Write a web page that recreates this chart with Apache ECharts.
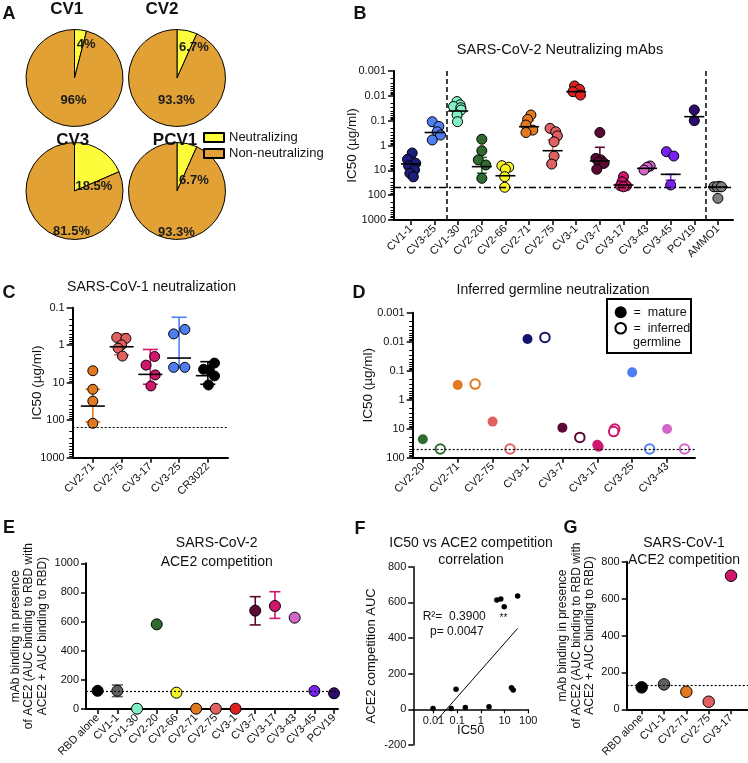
<!DOCTYPE html>
<html><head><meta charset="utf-8">
<script src="https://cdn.jsdelivr.net/npm/echarts@6/dist/echarts.min.js"></script>
<style>html,body{margin:0;padding:0;background:#fff}#c{width:748px;height:763px}</style>
</head><body><div id="c"></div>
<script>
// ---------------- DATA ----------------
// Panel A
const pieDonors = ['CV1', 'CV2', 'CV3', 'PCV1'];
const pieNeutralizing = [4, 6.7, 18.5, 6.7];
const pieNonNeutralizing = [96, 93.3, 81.5, 93.3];

// Panel B: SARS-CoV-2 neutralizing mAbs (IC50, ug/ml)
const bCategories = ['CV1-1','CV3-25','CV1-30','CV2-20','CV2-66','CV2-71','CV2-75','CV3-1','CV3-7','CV3-17','CV3-43','CV3-45','PCV19','AMMO1'];
const bColors = ['#1c1c7a','#4f7ef2','#82f0c4','#2f6b2f','#f7f425','#e2791f','#df6161','#e01f1f','#5c0a35','#d1166d','#d466c8','#7a22f2','#2e0b70','#7f7f7f'];
const bIC50 = [
  [2.0, 3.6, 5.2, 6.7, 9.7, 13.2, 18.3],
  [0.11, 0.17, 0.28, 0.38, 0.6],
  [0.017, 0.023, 0.027, 0.03, 0.037, 0.059, 0.11],
  [0.56, 1.62, 3.8, 6.1, 21],
  [6.5, 7.5, 9, 18, 48],
  [0.059, 0.089, 0.15, 0.24, 0.30],
  [0.204, 0.28, 0.41, 0.71, 2.66, 5.6],
  [0.004, 0.0055, 0.0068, 0.0093],
  [0.30, 3.3, 3.8, 4.6, 5.2, 9.1],
  [18, 29, 42, 42, 46],
  [6.7, 7.5, 9.7],
  [1.78, 2.66, 39],
  [0.037, 0.1],
  [44, 46, 46, 46, 134]
];
const bJitter = [
  [0.05, -0.15, 0.2, -0.1, 0.15, -0.05, 0.1],
  [-0.1, 0.18, 0.11, 0.25, -0.1],
  [-0.05, 0.08, -0.2, 0.11, 0.12, -0.05, -0.03],
  [0, 0, -0.15, 0.17, 0],
  [-0.15, 0.14, 0, -0.03, -0.03],
  [0.08, -0.06, -0.13, 0.16, -0.13],
  [-0.11, 0.13, 0.2, 0.06, 0.06, -0.04],
  [-0.07, 0.14, -0.14, 0.18],
  [0, -0.17, 0.04, -0.05, 0.18, -0.13],
  [0, -0.06, -0.13, 0.13, 0],
  [0.13, 0, -0.13],
  [-0.18, 0.13, 0],
  [0, 0],
  [0.05, -0.17, -0.03, 0.15, 0]
];
const bMedian = [5.5, 0.30, 0.041, 7.1, 16.5, 0.175, 1.62, 0.0068, 4.2, 39, 8.3, 14.5, 0.069, 47];
const bErrTop = [3, 0.17, 0.025, 3, 8, 0.1, 0.6, 0.005, 1.18, 25, 6.7, 14.5, 0.04, 44];
const bErrBottom = [12, 0.5, 0.07, 13, 25, 0.28, 4, 0.009, 8, 47, 9.7, 25, 0.1, 70];
const bThreshold = 50;
const bGroupDividers = [1.5, 12.5];

// Panel C: SARS-CoV-1 neutralization
const cCategories = ['CV2-71','CV2-75','CV3-17','CV3-25','CR3022'];
const cColors = ['#e2791f','#df6161','#d1166d','#4f7ef2','#000000'];
const cIC50 = [
  [4.8, 15, 31, 121],
  [0.62, 0.66, 0.98, 1.2, 1.95],
  [2.0, 3.4, 6.2, 12.2],
  [0.38, 0.5, 3.9, 3.9],
  [3.0, 4.4, 4.6, 6.6, 11.5]
];
const cJitter = [
  [0, 0, 0, 0],
  [-0.17, 0.15, 0, -0.12, 0.03],
  [0.15, -0.15, 0.17, 0.02],
  [0.2, -0.19, -0.19, 0.2],
  [0.23, -0.15, 0.05, 0.23, 0.02]
];
const cMedian = [42, 1.1, 6, 2.2, 6.5];
const cErrTop = [15, 0.5, 1.3, 0.18, 2.75];
const cErrBottom = [110, 1.8, 11, 3.9, 11];
const cThreshold = 155;

// Panel D: inferred germline neutralization
const dCategories = ['CV2-20','CV2-71','CV2-75','CV3-1','CV3-7','CV3-17','CV3-25','CV3-43'];
const dColors = ['#2f6b2f','#e2791f','#df6161','#14146e','#5c0a35','#d1166d','#4f7ef2','#d466c8'];
const dMature = [[23], [0.31], [5.7], [0.0081], [9.2], [36, 42], [0.114], [10.2]];
const dGermline = [[50], [0.29], [50], [0.0071], [20], [10.2, 12.6], [50], [50]];
const dThreshold = 50;

// Panel E: SARS-CoV-2 ACE2 competition
const eCategories = ['RBD alone','CV1-1','CV1-30','CV2-20','CV2-66','CV2-71','CV2-75','CV3-1','CV3-7','CV3-17','CV3-43','CV3-45','PCV19'];
const eColors = ['#000000','#606060','#82f0c4','#2f6b2f','#f7f425','#e2791f','#df6161','#e01f1f','#5c0a35','#d1166d','#d466c8','#7a22f2','#2e0b70'];
const eValues = [125, 125, 2, 581, 112, 2, 2, 2, 675, 707, 627, 124, 108];
const eErrLow = [117, 85, 2, 581, 112, 2, 2, 2, 577, 622, 627, 124, 108];
const eErrHigh = [133, 165, 2, 581, 112, 2, 2, 2, 771, 805, 627, 124, 108];
const eBaseline = 125;

// Panel F: IC50 vs ACE2 competition correlation
const fIC50 = [0.0095, 0.056, 0.089, 0.22, 2.2, 4.7, 6.9, 9.6, 19.5, 23, 35.5];
const fACE2 = [5, 5, 112, 11, 15, 613, 619, 575, 121, 108, 635];
const fFitIC50 = [0.014, 35.5];
const fFitACE2 = [-60, 454];
const fR2 = '0.3900';
const fP = '0.0047';

// Panel G: SARS-CoV-1 ACE2 competition
const gCategories = ['RBD alone','CV1-1','CV2-71','CV2-75','CV3-17'];
const gColors = ['#000000','#606060','#e2791f','#df6161','#d1166d'];
const gValues = [119, 135, 95, 41, 724];
const gBaseline = 128;

// ---------------- STYLE HELPERS ----------------
const FONT = "'Liberation Sans', Arial, Helvetica, sans-serif";
const INK = '#111';

function fmtPow(v) {
  const e = Math.round(v);
  return e < 0 ? Math.pow(10, e).toFixed(-e) : String(Math.pow(10, e));
}
function range(a, b) { const r = []; for (let i = a; i <= b; i++) r.push(i); return r; }

function catX(grid, cats, min, max) {
  const idx = cats.map((_, i) => i);
  return {
    type: 'value', gridIndex: grid, position: 'bottom', min, max, splitLine: {show: false},
    axisLine: {show: true, onZero: false, lineStyle: {color: '#000', width: 2}},
    axisTick: {show: true, customValues: idx, length: 5, lineStyle: {color: '#000', width: 1.5}},
    axisLabel: {customValues: idx, formatter: v => cats[Math.round(v)], rotate: 45, fontSize: 11,
      color: INK, fontFamily: FONT, margin: 7}
  };
}
function logData(grid, min, max, inverse) {
  return {type: 'log', logBase: 10, gridIndex: grid, position: 'left', min, max, inverse, show: false,
    axisLine: {onZero: false}};
}
function logMajor(grid, lo, hi, inverse, name, nameGap) {
  const vals = range(lo, hi);
  return {
    type: 'value', gridIndex: grid, position: 'left', min: lo, max: hi, inverse, splitLine: {show: false},
    name, nameLocation: 'middle', nameGap, nameMoveOverlap: false,
    nameTextStyle: {fontSize: 13.5, fontFamily: FONT, color: INK},
    axisLine: {show: true, onZero: false, lineStyle: {color: '#000', width: 2}},
    axisTick: {show: true, customValues: vals, length: 6, lineStyle: {color: '#000', width: 1.5}},
    axisLabel: {customValues: vals, formatter: fmtPow, fontSize: 11, color: INK, fontFamily: FONT, margin: 8}
  };
}
function logMinor(grid, lo, hi, inverse) {
  const vals = [];
  for (let e = lo; e < hi; e++) for (let k = 2; k <= 9; k++) vals.push(e + Math.log10(k));
  return {
    type: 'value', gridIndex: grid, position: 'left', min: lo, max: hi, inverse, splitLine: {show: false},
    axisLine: {show: false, onZero: false},
    axisTick: {show: true, customValues: vals, length: 3.5, lineStyle: {color: '#000', width: 1}},
    axisLabel: {show: false}
  };
}
function linY(grid, min, max, name, nameGap, nameSize) {
  return {
    type: 'value', gridIndex: grid, position: 'left', min, max, interval: 200, splitLine: {show: false},
    name, nameLocation: 'middle', nameGap, nameMoveOverlap: false,
    nameTextStyle: {fontSize: nameSize, lineHeight: 13.5, fontFamily: FONT, color: INK},
    axisLine: {show: true, onZero: false, lineStyle: {color: '#000', width: 2}},
    axisTick: {show: true, length: 5, lineStyle: {color: '#000', width: 1.5}},
    axisLabel: {formatter: v => String(v), fontSize: 11, color: INK, fontFamily: FONT, margin: 7}
  };
}
function refLine(list) {
  return {symbol: ['none', 'none'], silent: true, animation: false, label: {show: false},
    lineStyle: {color: '#000', width: 1.3}, data: list};
}
function medianSeries(xi, yi, data, halfW) {
  return {
    type: 'custom', xAxisIndex: xi, yAxisIndex: yi, z: 5, silent: true, data,
    renderItem(params, api) {
      const p = api.coord([api.value(0), api.value(1)]);
      return {type: 'line', shape: {x1: p[0] - halfW, y1: p[1], x2: p[0] + halfW, y2: p[1]},
        style: {stroke: '#000', lineWidth: 1.6}};
    }
  };
}
function errorSeries(xi, yi, data, colors, capW) {
  return {
    type: 'custom', xAxisIndex: xi, yAxisIndex: yi, z: 1, silent: true, data,
    renderItem(params, api) {
      const x = api.value(0);
      const a = api.coord([x, api.value(1)]);
      const b = api.coord([x, api.value(2)]);
      const col = colors[Math.round(x)];
      const st = {stroke: col, lineWidth: 1.6};
      return {type: 'group', children: [
        {type: 'line', shape: {x1: a[0], y1: a[1], x2: b[0], y2: b[1]}, style: st},
        {type: 'line', shape: {x1: a[0] - capW, y1: a[1], x2: a[0] + capW, y2: a[1]}, style: st},
        {type: 'line', shape: {x1: b[0] - capW, y1: b[1], x2: b[0] + capW, y2: b[1]}, style: st}
      ]};
    }
  };
}
function swarm(cats, vals, jit, colors) {
  const out = [];
  cats.forEach((c, i) => vals[i].forEach((v, j) => out.push({value: [i + jit[i][j], v], itemStyle: {color: colors[i]}})));
  return out;
}

// ---------------- SERIES ----------------
const pieCenters = [[74.5, 78], [177, 78], [74.5, 191], [177, 191]];
const pieLabelShift = [
  [[8.2, -6.7], [2.5, -5]],
  [[11.2, -4], [5.1, -4.7]],
  [[4.4, 18.3], [12, 17.7]],
  [[11.2, 16.3], [5.1, 14.3]]
];
const series = [];
pieDonors.forEach((d, i) => {
  series.push({
    type: 'pie', name: d, center: pieCenters[i], radius: 48.5, startAngle: 90, clockwise: true,
    avoidLabelOverlap: false, silent: true, emphasis: {disabled: true},
    itemStyle: {borderColor: '#000', borderWidth: 1},
    label: {show: true, position: 'inside', formatter: p => p.value + '%', fontSize: 13, fontWeight: 'bold',
      color: '#1a1a1a', fontFamily: FONT},
    labelLine: {show: false},
    labelLayout: p => ({dx: pieLabelShift[i][p.dataIndex][0], dy: pieLabelShift[i][p.dataIndex][1]}),
    data: [
      {name: 'Neutralizing', value: pieNeutralizing[i], itemStyle: {color: '#fcfc3a'}},
      {name: 'Non-neutralizing', value: pieNonNeutralizing[i], itemStyle: {color: '#e2a135'}}
    ]
  });
});

// B
series.push({
  type: 'scatter', xAxisIndex: 0, yAxisIndex: 0, z: 3, symbolSize: 10,
  itemStyle: {borderColor: '#000', borderWidth: 1, opacity: 1},
  data: swarm(bCategories, bIC50, bJitter, bColors),
  markLine: refLine([
    {xAxis: bGroupDividers[0], lineStyle: {type: [5, 3], width: 1.5}},
    {xAxis: bGroupDividers[1], lineStyle: {type: [5, 3], width: 1.5}},
    {yAxis: bThreshold, lineStyle: {type: [7, 3, 2, 3], width: 1.3}}
  ])
});
series.push(errorSeries(0, 0, bCategories.map((c, i) => [i, bErrTop[i], bErrBottom[i]]), bColors, 5));
series.push(medianSeries(0, 0, bCategories.map((c, i) => [i, bMedian[i]]), 10));

// C
series.push({
  type: 'scatter', xAxisIndex: 1, yAxisIndex: 3, z: 3, symbolSize: 10,
  itemStyle: {borderColor: '#000', borderWidth: 1, opacity: 1},
  data: swarm(cCategories, cIC50, cJitter, cColors),
  markLine: refLine([{yAxis: cThreshold, lineStyle: {type: [2, 2], width: 1.2}}])
});
series.push(errorSeries(1, 3, cCategories.map((c, i) => [i, cErrTop[i], cErrBottom[i]]), cColors, 7.5));
series.push(medianSeries(1, 3, cCategories.map((c, i) => [i, cMedian[i]]), 12));

// D
const dMatureData = [], dGermData = [];
dCategories.forEach((c, i) => {
  dMature[i].forEach((v, j) => dMatureData.push({value: [i + j * 0.04, v], itemStyle: {color: dColors[i]}}));
  dGermline[i].forEach((v, j) => dGermData.push({value: [i + 0.5 - j * 0.03, v], itemStyle: {borderColor: dColors[i]}}));
});
series.push({
  type: 'scatter', name: 'mature', xAxisIndex: 2, yAxisIndex: 6, z: 3, symbolSize: 10,
  itemStyle: {opacity: 1}, data: dMatureData,
  markLine: refLine([{yAxis: dThreshold, lineStyle: {type: [2, 2], width: 1.2}}])
});
series.push({
  type: 'scatter', name: 'inferred germline', xAxisIndex: 2, yAxisIndex: 6, z: 4, symbolSize: 9.5,
  itemStyle: {color: '#fff', borderWidth: 2, opacity: 1}, data: dGermData
});

// E
series.push({
  type: 'scatter', xAxisIndex: 3, yAxisIndex: 9, z: 3, symbolSize: 11,
  itemStyle: {borderColor: '#000', borderWidth: 1, opacity: 1},
  data: eCategories.map((c, i) => ({value: [i, eValues[i]], itemStyle: {color: eColors[i]}})),
  markLine: refLine([{yAxis: eBaseline, lineStyle: {type: [2, 2], width: 1.2}}])
});
series.push(errorSeries(3, 9, eCategories.map((c, i) => [i, eErrLow[i], eErrHigh[i]]).filter(d => d[2] > d[1]), eColors, 5.5));

// F
series.push({
  type: 'scatter', xAxisIndex: 4, yAxisIndex: 10, z: 3, symbolSize: 5.5,
  itemStyle: {color: '#000', opacity: 1},
  data: fIC50.map((v, i) => [v, fACE2[i]])
});
series.push({
  type: 'line', xAxisIndex: 4, yAxisIndex: 10, z: 2, showSymbol: false, symbol: 'none', silent: true,
  lineStyle: {color: '#000', width: 1},
  data: fFitIC50.map((v, i) => [v, fFitACE2[i]])
});

// G
series.push({
  type: 'scatter', xAxisIndex: 6, yAxisIndex: 11, z: 3, symbolSize: 11.5,
  itemStyle: {borderColor: '#000', borderWidth: 1, opacity: 1},
  data: gCategories.map((c, i) => ({value: [i, gValues[i]], itemStyle: {color: gColors[i]}})),
  markLine: refLine([{yAxis: gBaseline, lineStyle: {type: [2, 2], width: 1.2}}])
});

// ---------------- GRIDS & AXES ----------------
const grid = [
  {left: 394, top: 71, width: 339, height: 149},
  {left: 72.7, top: 307.7, width: 155.3, height: 150},
  {left: 412.7, top: 312.7, width: 282.3, height: 145},
  {left: 86, top: 563.3, width: 252, height: 145.7},
  {left: 413.3, top: 566.7, width: 115, height: 178.3},
  {left: 626.7, top: 561.7, width: 121.3, height: 147.6}
].map(g => Object.assign(g, {containLabel: false, outerBoundsMode: 'none'}));

const fMin = 0.0014;
const fYMin = -200, fYMax = 800;
// lift F's x axis up to the ACE2 = 0 level (distance from grid bottom)
const fZeroLift = grid[4].height * (0 - fYMin) / (fYMax - fYMin);

const xAxis = [
  catX(0, bCategories, -0.72, 13.64),
  catX(1, cCategories, -0.7, 4.7),
  catX(2, dCategories, -0.29, 7.8),
  catX(3, eCategories, -0.59, 12.2),
  {type: 'log', logBase: 10, gridIndex: 4, position: 'bottom', min: fMin, max: 100, show: false,
    axisLine: {onZero: false}},
  {
    type: 'value', gridIndex: 4, position: 'bottom', offset: -fZeroLift,
    min: Math.log10(fMin), max: 2, splitLine: {show: false},
    name: 'IC50', nameLocation: 'middle', nameGap: 15, nameMoveOverlap: false,
    nameTextStyle: {fontSize: 13, fontFamily: FONT, color: INK},
    axisLine: {show: true, onZero: false, lineStyle: {color: '#000', width: 1.5}},
    axisTick: {show: true, customValues: [-2, -1, 0, 1, 2], length: 4, lineStyle: {color: '#000', width: 1.2}},
    axisLabel: {customValues: [-2, -1, 0, 1, 2], formatter: fmtPow, fontSize: 11, color: INK, fontFamily: FONT, margin: 6}
  },
  catX(5, gCategories, -0.67, 4.76)
];
const yAxis = [
  logData(0, 0.001, 1000, true),
  logMajor(0, -3, 3, true, 'IC50 (µg/ml)', 35),
  logMinor(0, -3, 3, true),
  logData(1, 0.1, 1000, true),
  logMajor(1, -1, 3, true, 'IC50 (µg/ml)', 28),
  logMinor(1, -1, 3, true),
  logData(2, 0.001, 100, true),
  logMajor(2, -3, 2, true, 'IC50 (µg/ml)', 37),
  logMinor(2, -3, 2, true),
  linY(3, 0, 1000, 'mAb binding in presence\nof ACE2 (AUC binding to RBD with\nACE2 + AUC binding to RBD)', 37, 12),
  linY(4, fYMin, fYMax, 'ACE2 competition AUC', 35, 13),
  linY(5, 0, 800, 'mAb binding in presence\nof ACE2 (AUC binding to RBD with\nACE2 + AUC binding to RBD)', 30, 12)
];
yAxis[10].axisLine.lineStyle.width = 1.5;

// ---------------- TEXT ----------------
function txt(x, y, text, size, weight, align, lh) {
  return {type: 'text', x, y, z: 100, silent: true,
    style: {text, fontSize: size, fontWeight: weight || 'normal', fontFamily: FONT, fill: INK,
      align: align || 'center', textAlign: align || 'center', verticalAlign: 'middle', textVerticalAlign: 'middle',
      lineHeight: lh || size * 1.2}};
}
const elements = [
  txt(9, 14.5, 'A', 18, 'bold'), txt(360, 14, 'B', 18, 'bold'), txt(9, 293, 'C', 18, 'bold'),
  txt(359, 293, 'D', 18, 'bold'), txt(9, 528, 'E', 18, 'bold'), txt(360, 529, 'F', 18, 'bold'),
  txt(570.5, 528, 'G', 18, 'bold'),
  txt(66.7, 9.5, pieDonors[0], 17, 'bold'), txt(162, 9.5, pieDonors[1], 17, 'bold'),
  txt(72.7, 140, pieDonors[2], 17, 'bold'), txt(175, 140, pieDonors[3], 17, 'bold'),
  txt(560, 50, 'SARS-CoV-2 Neutralizing mAbs', 14.5),
  txt(151.5, 287.5, 'SARS-CoV-1 neutralization', 14),
  txt(553, 290, 'Inferred germline neutralization', 14),
  txt(216.7, 552.5, 'SARS-CoV-2\nACE2 competition', 14, 'normal', 'center', 18.5),
  txt(471, 551.7, 'IC50 vs ACE2 competition\ncorrelation', 14, 'normal', 'center', 16.7),
  txt(684, 551.7, 'SARS-CoV-1\nACE2 competition', 14, 'normal', 'center', 16.7),
  txt(422.7, 617, 'R²=  ' + fR2, 12, 'normal', 'left'),
  txt(430, 631.7, 'p= ' + fP, 12, 'normal', 'left'),
  txt(503.5, 618.5, '**', 10),
  {type: 'rect', z: 99, silent: true, shape: {x: 607, y: 299, width: 84, height: 54},
    style: {fill: '#fff', stroke: '#000', lineWidth: 2}},
  {type: 'circle', z: 100, silent: true, shape: {cx: 620.7, cy: 312.3, r: 6}, style: {fill: '#000'}},
  {type: 'circle', z: 100, silent: true, shape: {cx: 620.7, cy: 328.3, r: 5.3},
    style: {fill: '#fff', stroke: '#000', lineWidth: 2}},
  txt(633.5, 312.3, '=  mature', 12.5, 'normal', 'left'),
  txt(633.5, 328.3, '=  inferred', 12.5, 'normal', 'left'),
  txt(633, 342.7, 'germline', 12.5, 'normal', 'left')
];

const chart = echarts.init(document.getElementById('c'), null, {renderer: 'canvas'});
chart.setOption({
  animation: false,
  backgroundColor: '#fff',
  textStyle: {fontFamily: FONT},
  legend: [{
    left: 203, top: 131, orient: 'vertical', padding: 0, itemGap: 3, itemWidth: 20, itemHeight: 9,
    icon: 'rect', selectedMode: false, data: ['Neutralizing', 'Non-neutralizing'],
    textStyle: {fontSize: 13, color: INK, fontFamily: FONT}
  }],
  grid, xAxis, yAxis, series,
  graphic: {elements}
});
</script></body></html>
